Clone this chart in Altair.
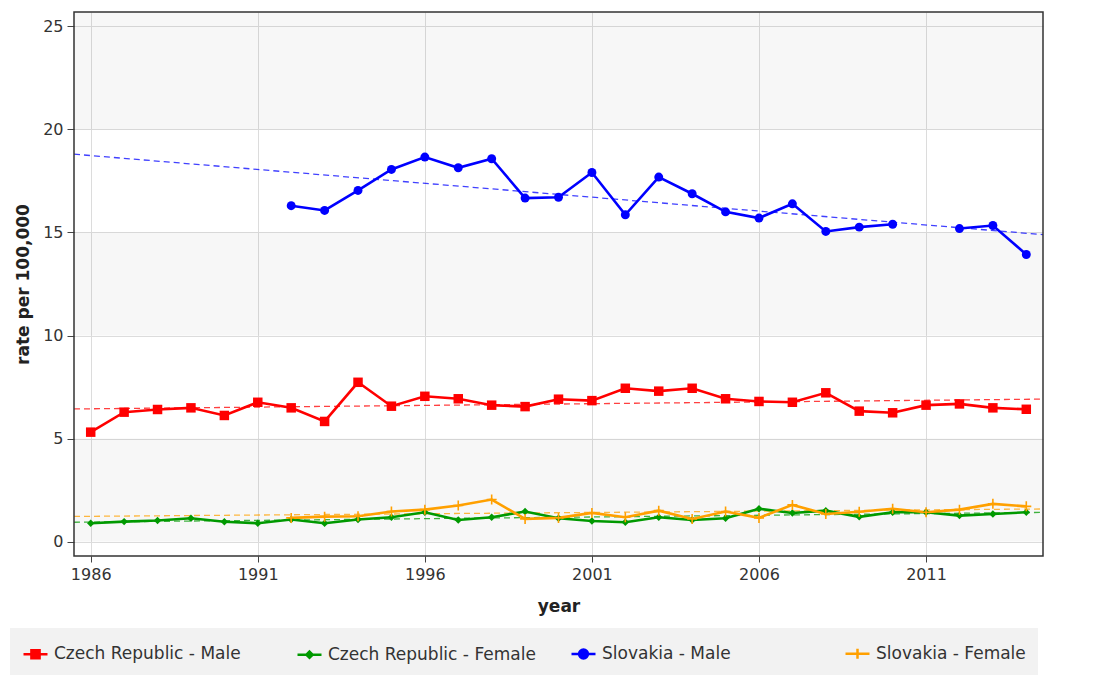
import altair as alt
import pandas as pd

# Rate per 100,000 by country and sex, 1986-2014
years = list(range(1986, 2015))

cz_male = [5.31, 6.28, 6.41, 6.49, 6.12, 6.76, 6.49, 5.83, 7.73, 6.57,
           7.05, 6.93, 6.62, 6.55, 6.91, 6.84, 7.44, 7.30, 7.44, 6.93,
           6.80, 6.76, 7.22, 6.33, 6.25, 6.62, 6.68, 6.49, 6.42]
cz_female = [0.89, 0.97, 1.02, 1.13, 0.96, 0.89, 1.07, 0.89, 1.07, 1.18,
             1.42, 1.05, 1.18, 1.46, 1.13, 1.00, 0.94, 1.18, 1.05, 1.13,
             1.59, 1.39, 1.50, 1.20, 1.42, 1.42, 1.26, 1.34, 1.42]
sk_male = [None, None, None, None, None, None,
           16.30, 16.07, 17.04, 18.06, 18.66, 18.14, 18.58, 16.67, 16.71,
           17.91, 15.86, 17.69, 16.88, 16.00, 15.70, 16.39, 15.05, 15.26,
           15.40, None, 15.19, 15.34, 13.93]
sk_female = [None, None, None, None, None, None,
             1.15, 1.21, 1.23, 1.46, 1.55, 1.75, 2.04, 1.10, 1.15,
             1.39, 1.18, 1.50, 1.10, 1.46, 1.15, 1.78, 1.34, 1.45,
             1.59, 1.42, 1.55, 1.83, 1.71]

series_names = ["Czech Republic - Male", "Czech Republic - Female",
                "Slovakia - Male", "Slovakia - Female"]
series_colors = ["#ff0000", "#009900", "#0000ff", "#ffa000"]

x_ticks = [1986, 1991, 1996, 2001, 2006, 2011]
y_ticks = [0, 5, 10, 15, 20, 25]
band_lo = [0, 10, 20]
band_hi = [5, 15, 30]

rows = []
for name, vals in zip(series_names, [cz_male, cz_female, sk_male, sk_female]):
    for yr, v in zip(years, vals):
        rows.append({"year": yr, "rate": v, "series": name})
df = pd.DataFrame(rows)

FONT = "DejaVu Sans"
x_dom = [1985.5, 2014.5]
y_dom = [-0.7, 25.7]

# The view group starts 64px left of the plotting area so that the bottom
# legend can begin near the left edge; the x range and y axis are shifted to suit.
PLOT_LEFT = 64
VIEW_W = 1033

x_scale = alt.Scale(domain=x_dom, range=[PLOT_LEFT, VIEW_W], nice=False, zero=False)
y_scale = alt.Scale(domain=y_dom, nice=False, zero=False)
x_axis = alt.Axis(values=x_ticks, format="d", title="year",
                  tickSize=6, labelPadding=4, titlePadding=16, grid=True)
y_axis = alt.Axis(values=y_ticks, title="rate per 100,000", offset=-PLOT_LEFT,
                  tickSize=7, labelPadding=4, titlePadding=10, grid=True)

X = alt.X("year:Q", scale=x_scale, axis=x_axis)
Y = alt.Y("rate:Q", scale=y_scale, axis=y_axis)

# alternating horizontal shading behind the data: one flat area per band,
# running from the first to the last year of the axis
band_rows = []
for i, (lo, hi) in enumerate(zip(band_lo, band_hi)):
    for yr in x_dom:
        band_rows.append({"band": i, "year": yr, "rate": lo, "rate_end": hi})
bands = alt.Chart(pd.DataFrame(band_rows)).mark_area(
    color="black", opacity=0.03, clip=True
).encode(x=X, y=Y, y2="rate_end:Q", detail="band:N")

line_layers = []
for name, col in zip(series_names, series_colors):
    # least-squares trend, stretched across the whole year range
    line_layers.append(
        alt.Chart(df).transform_filter(alt.datum.series == name)
        .transform_regression("year", "rate", method="linear", extent=x_dom)
        .mark_line(color=col, strokeDash=[6, 4], strokeWidth=1.3, opacity=0.75, clip=True)
        .encode(x=X, y=Y)
    )
for name, col in zip(series_names, series_colors):
    line_layers.append(
        alt.Chart(df).transform_filter(alt.datum.series == name)
        .mark_line(color=col, strokeWidth=2.6, invalid="break-paths-show-domains")
        .encode(x=X, y=Y)
    )

marker_styles = [
    dict(shape="square", size=90, filled=True),
    dict(shape="diamond", size=55, filled=True),
    dict(shape="circle", size=80, filled=True),
    dict(shape="M-1,0H1M0,-1V1", size=100, filled=False, strokeWidth=1.6),
]
point_layers = []
for name, col, style in zip(series_names, series_colors, marker_styles):
    point_layers.append(
        alt.Chart(df)
        .transform_filter(alt.datum.series == name)
        .transform_filter("isValid(datum.rate)")
        .mark_point(color=col, opacity=1, **style)
        .encode(x=X, y=Y)
    )

# plot frame around the data rectangle
frame_df = pd.DataFrame({"year": [x_dom[0]], "year_end": [x_dom[1]],
                         "rate": [y_dom[0]], "rate_end": [y_dom[1]]})
frame = alt.Chart(frame_df).mark_rect(
    filled=False, color="#333333", strokeWidth=1.5
).encode(x=X, x2="year_end:Q", y=Y, y2="rate_end:Q")

# legend symbols: a short line with the series marker on it
legend_shapes = [
    "M-1,0H1M-0.34,-0.34H0.34V0.34H-0.34Z",
    "M-1,0H1M0,-0.26L0.26,0L0,0.26L-0.26,0Z",
    "M-1,0H1M0.37,0A0.37,0.37,0,1,1,-0.37,0A0.37,0.37,0,1,1,0.37,0Z",
    "M-1,0H1M0,-0.42V0.42",
]
leg = alt.Legend(
    title=None, orient="bottom", offset=14,
    direction="horizontal", columns=4, gridAlign="all", columnPadding=30,
    padding=12, fillColor="#f2f2f2",
    labelFont=FONT, labelFontSize=17, labelColor="#333333", labelOffset=5,
    labelLimit=400, symbolSize=576, symbolStrokeWidth=2.5, symbolOpacity=1,
)
# invisible carrier layer whose only job is to produce the legend
legend_layer = alt.Chart(df).transform_filter("isValid(datum.rate)").mark_point(
    filled=True, opacity=0, strokeWidth=2.5
).encode(
    x=X, y=Y,
    fill=alt.Fill("series:N", scale=alt.Scale(domain=series_names, range=series_colors), legend=leg),
    stroke=alt.Stroke("series:N", scale=alt.Scale(domain=series_names, range=series_colors), legend=leg),
    shape=alt.Shape("series:N", scale=alt.Scale(domain=series_names, range=legend_shapes), legend=leg),
)

chart = alt.layer(bands, *line_layers, *point_layers, frame, legend_layer).properties(
    width=VIEW_W, height=544,
    padding={"left": 10, "top": 12, "right": 51, "bottom": 119},
    autosize=alt.AutoSizeParams(type="none"),
    background="white",
).configure_view(
    strokeWidth=0
).configure_axis(
    labelFont=FONT, labelFontSize=16, labelColor="#333333",
    titleFont=FONT, titleFontSize=17, titleFontWeight="bold", titleColor="#222222",
    gridColor="#dcdcdc", gridWidth=1, tickColor="#444444", domain=False,
)

chart.save("out.html", embed_options={"renderer": "svg", "actions": False})
